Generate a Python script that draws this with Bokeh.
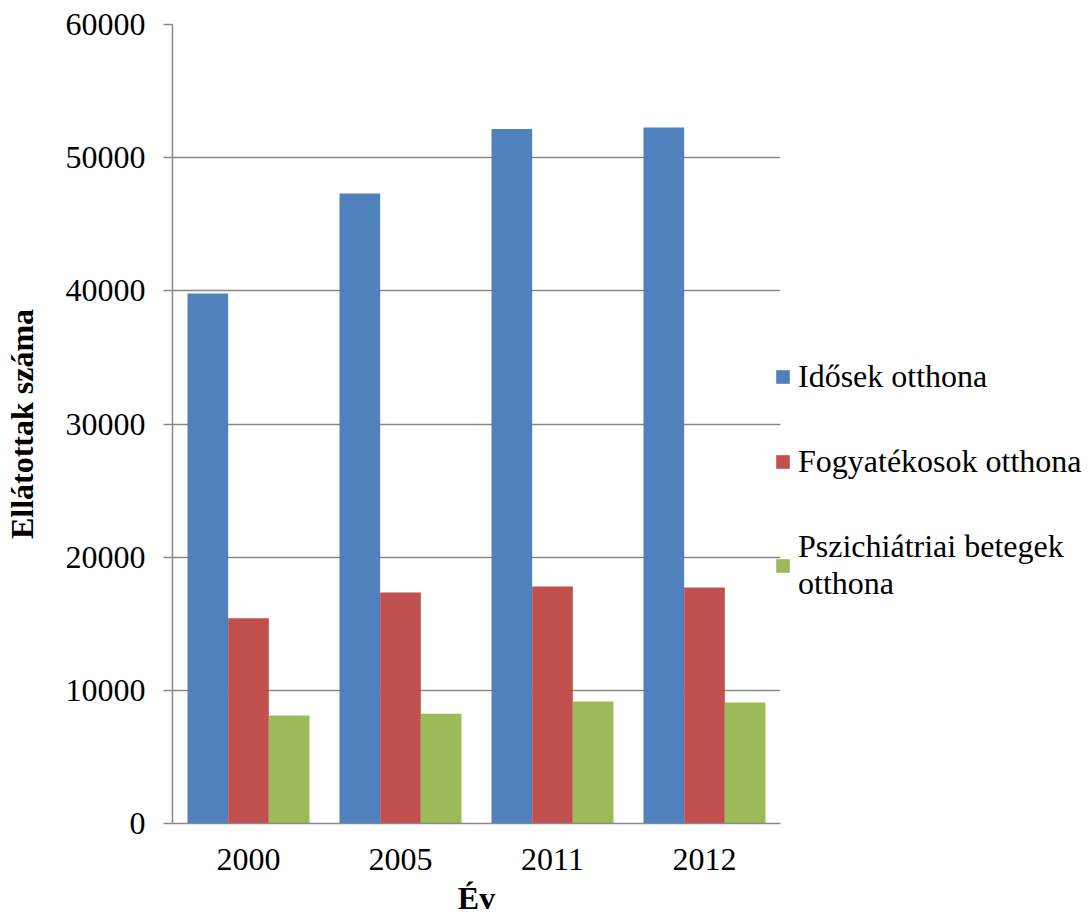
from bokeh.plotting import figure
from bokeh.models import FactorRange, Range1d, SingleIntervalTicker, Legend, LegendItem, BasicTickFormatter
from bokeh.transform import dodge
from bokeh.embed import file_html
from bokeh.resources import INLINE

# Residents of care homes by year and home type
years = ["2000", "2005", "2011", "2012"]
idosek = [39800, 47300, 52150, 52270]
fogyatekosok = [15420, 17350, 17800, 17720]
pszichiatriai = [8110, 8240, 9160, 9090]

series_names = ["Idősek otthona", "Fogyatékosok otthona", "Pszichiátriai betegek\notthona"]
colors = ["#4F81BD", "#C0504D", "#9BBB59"]

FONT = "Liberation Serif"
GRID = "#888888"

p = figure(
    x_range=FactorRange(*years),
    y_range=Range1d(0, 60000),
    frame_width=608, frame_height=799,
    min_border_left=172, min_border_right=0,
    min_border_top=24, min_border_bottom=90,
    output_backend="svg", toolbar_location=None,
    background_fill_color="white", border_fill_color="white",
)
p.outline_line_color = None

source = dict(year=years, a=idosek, b=fogyatekosok, c=pszichiatriai)
bw = 0.2675
renderers = []
for key, off, col in zip(["a", "b", "c"], [-bw, 0.0, bw], colors):
    r = p.vbar(x=dodge("year", off, range=p.x_range), top=key, width=bw,
               source=source, fill_color=col, line_color=None)
    renderers.append(r)

# y axis
p.yaxis.ticker = SingleIntervalTicker(interval=10000)
p.yaxis.formatter = BasicTickFormatter(use_scientific=False)
p.yaxis.minor_tick_line_color = None
p.yaxis.major_tick_out = 9
p.yaxis.major_tick_in = 0
p.yaxis.major_tick_line_color = GRID
p.yaxis.major_tick_line_width = 1.5
p.yaxis.axis_line_color = GRID
p.yaxis.axis_line_width = 1.5
p.yaxis.major_label_text_font = FONT
p.yaxis.major_label_text_font_size = "32px"
p.yaxis.major_label_text_color = "black"
p.yaxis.major_label_standoff = 18
p.yaxis.axis_label = "Ellátottak száma"
p.yaxis.axis_label_text_font = FONT
p.yaxis.axis_label_text_font_size = "32px"
p.yaxis.axis_label_text_font_style = "bold"
p.yaxis.axis_label_text_color = "black"
p.yaxis.axis_label_standoff = 23

# x axis
p.xaxis.major_tick_line_color = None
p.xaxis.minor_tick_line_color = None
p.xaxis.major_tick_out = 0
p.xaxis.axis_line_color = GRID
p.xaxis.axis_line_width = 1.5
p.xaxis.major_label_text_font = FONT
p.xaxis.major_label_text_font_size = "32px"
p.xaxis.major_label_text_color = "black"
p.xaxis.major_label_standoff = 25
p.xaxis.axis_label = "Év"
p.xaxis.axis_label_text_font = FONT
p.xaxis.axis_label_text_font_size = "32px"
p.xaxis.axis_label_text_font_style = "bold"
p.xaxis.axis_label_text_color = "black"
p.xaxis.axis_label_standoff = 7

# grid
p.xgrid.grid_line_color = None
p.ygrid.grid_line_color = GRID
p.ygrid.grid_line_width = 1.5

legend = Legend(
    items=[LegendItem(label=n, renderers=[r]) for n, r in zip(series_names, renderers)],
    location=(-6, 221),
    padding=0, margin=0, spacing=48,
    glyph_width=17, glyph_height=17, label_standoff=7,
    label_text_font=FONT, label_text_font_size="32px", label_text_color="black",
    border_line_color=None, background_fill_alpha=0,
)
p.add_layout(legend, "right")

open("out.html", "w").write(file_html(p, INLINE))
